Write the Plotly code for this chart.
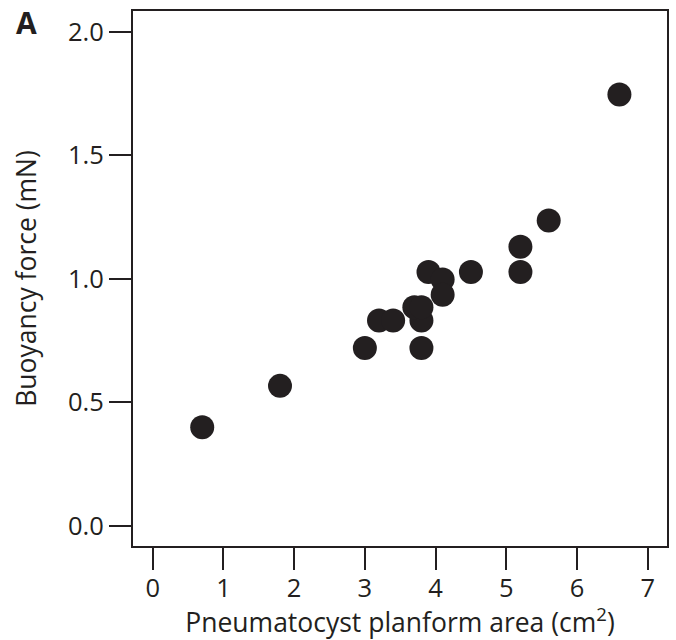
import plotly.graph_objects as go

area_cm2 = [0.7, 1.8, 3.0, 3.2, 3.4, 3.8, 3.8, 3.7, 3.8, 3.9, 4.1, 4.1, 4.5, 5.2, 5.2, 5.6, 6.6]
buoyancy_mN = [0.40, 0.567, 0.72, 0.832, 0.832, 0.72, 0.832, 0.885, 0.885, 1.028, 0.997, 0.936, 1.028, 1.028, 1.13, 1.236, 1.746]
x_ticks = [0, 1, 2, 3, 4, 5, 6, 7]
y_ticks = [0.0, 0.5, 1.0, 1.5, 2.0]
y_tick_text = ["0.0", "0.5", "1.0", "1.5", "2.0"]

ink = "#231f20"
font_family = "Open Sans, sans-serif"

L, R, T, B = 133, 9, 11, 94
W, H = 676, 640
pw, ph = W - L - R, H - T - B

fig = go.Figure()
fig.add_trace(go.Scatter(
    x=area_cm2, y=buoyancy_mN, mode="markers",
    marker=dict(size=24, color=ink, line=dict(width=0)),
    showlegend=False,
))

fig.update_layout(
    template="none",
    width=W, height=H,
    margin=dict(l=L, r=R, t=T, b=B),
    paper_bgcolor="white", plot_bgcolor="white",
    font=dict(family=font_family, size=26, color=ink),
    xaxis=dict(
        range=[-0.279, 7.273], tickvals=x_ticks, ticks="outside", ticklen=22,
        tickwidth=2, tickcolor=ink, showline=True, linewidth=2, linecolor=ink,
        mirror=True, showgrid=False, zeroline=False, automargin=False,
        ticklabelstandoff=-4,
        title=dict(text="Pneumatocyst planform area (cm<sup>2</sup>)", standoff=3,
                   font=dict(size=26.5)),
        tickfont=dict(size=25.5),
    ),
    yaxis=dict(
        range=[-0.081, 2.084], tickvals=y_ticks, ticktext=y_tick_text, ticks="outside",
        ticklen=22, tickwidth=2, tickcolor=ink, showline=True, linewidth=2,
        linecolor=ink, mirror=True, showgrid=False, zeroline=False, automargin=False,
        title=dict(text="Buoyancy force (mN)", standoff=24, font=dict(size=26.5)),
        tickfont=dict(size=25.5),
    ),
    annotations=[dict(
        text="<b>A</b>", xref="paper", yref="paper", showarrow=False,
        x=(26 - L) / pw, y=(H - B - 22.5) / ph, xanchor="center", yanchor="middle",
        font=dict(size=30, color=ink),
    )],
)
fig.write_html("out.html", config={"displayModeBar": False},
               post_script="document.body.style.margin='0px';")
